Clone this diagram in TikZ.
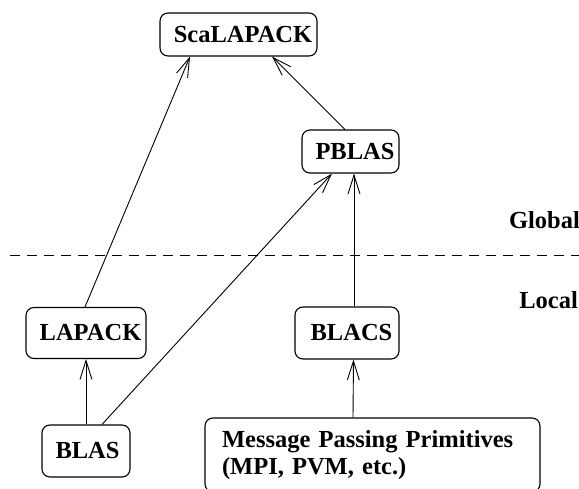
\documentclass[tikz,border=0pt]{standalone}
\usepackage{fontspec}
\setmainfont{Liberation Serif}
\usetikzlibrary{arrows.meta}
\begin{document}
\begin{tikzpicture}[x=1pt,y=-1pt,
  box/.style={draw, rounded corners=8pt, line width=1.1pt, inner sep=0pt,
    font=\fontsize{24.5}{27.5}\selectfont\bfseries},
  lbl/.style={font=\fontsize{24.5}{27.5}\selectfont\bfseries, inner sep=0pt},
  arr/.style={-{Straight Barb[length=19pt,width=12pt]}, line width=0.9pt}]
\useasboundingbox (0,0) rectangle (579,489);
\node[box, minimum width=157pt, minimum height=43pt] (sca) at (238.5,34.5) {\hspace*{9pt}ScaLAPACK};
\node[box, minimum width=97pt, minimum height=43pt] (pblas) at (350.5,151.5) {\hspace*{9pt}PBLAS};
\node[box, minimum width=120pt, minimum height=51pt] (lapack) at (86,333) {\hspace*{9pt}LAPACK};
\node[box, minimum width=104pt, minimum height=52pt] (blacs) at (347,333) {\hspace*{9pt}BLACS};
\node[box, minimum width=88pt, minimum height=52pt] (blas) at (86,451) {\hspace*{3pt}BLAS};
\node[box, minimum height=74pt, text width=301pt, inner xsep=17pt, align=left] (mpp) at (372.5,455)
  {Message Passing Primitives\\(MPI, PVM, etc.)};
\node[lbl, anchor=east] (glob) at (580,220) {Global};
\node[lbl, anchor=east] (loc) at (578,300) {Local};
\coordinate (dl) at (10,255);
\coordinate (dr) at (579,255);
\draw[dashed, dash pattern=on 10pt off 7pt, line width=0.8pt] (dl) -- (dr);
\draw[arr] ([xshift=-1pt]lapack.north) -- ([xshift=-48.5pt]sca.south);
\draw[arr] ([xshift=-5.5pt]pblas.north) -- ([xshift=33.5pt]sca.south);
\draw[arr] ([xshift=16pt]blas.north) -- ([xshift=-18.5pt]pblas.south);
\draw[arr] (blas.north) -- (lapack.south);
\draw[arr] ([xshift=-19.5pt]mpp.north) -- ([xshift=6.5pt]blacs.south);
\draw[arr] ([xshift=7pt]blacs.north) -- ([xshift=3.5pt]pblas.south);
\end{tikzpicture}
\end{document}
